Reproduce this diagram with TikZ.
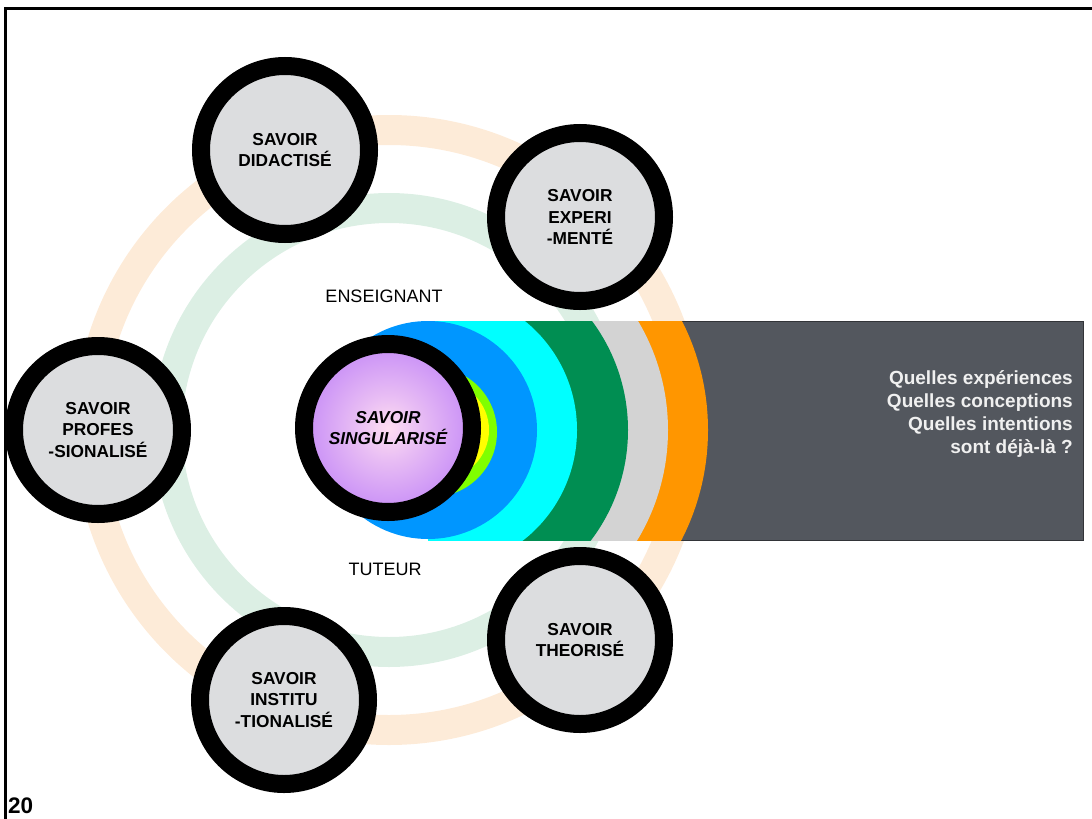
\documentclass[tikz,border=0pt]{standalone}
\usepackage{fontspec}
\setmainfont{Liberation Sans}
\usepackage{tikz}

\definecolor{ringpeach}{RGB}{253,235,216}
\definecolor{ringmint}{RGB}{220,239,228}
\definecolor{satgray}{RGB}{220,221,223}
\definecolor{stripblue}{RGB}{0,150,255}
\definecolor{stripcyan}{RGB}{0,255,255}
\definecolor{stripgreen}{RGB}{0,142,82}
\definecolor{stripgray}{RGB}{211,211,211}
\definecolor{striporange}{RGB}{255,150,0}
\definecolor{stripdark}{RGB}{83,87,94}
\definecolor{striplime}{RGB}{128,255,0}
\definecolor{stripyellow}{RGB}{255,255,0}
\definecolor{glowpink}{RGB}{255,222,242}
\definecolor{glowpurple}{RGB}{160,85,250}

\pgfdeclareradialshading{singularglow}{\pgfpoint{0bp}{0bp}}{%
  color(0bp)=(glowpink); color(10bp)=(glowpink!75!glowpurple);
  color(44bp)=(glowpurple); color(100bp)=(glowpurple)}

\tikzset{
  savoir/.style={circle, draw=black, line width=18pt, fill=satgray,
    minimum size=168pt, inner sep=0pt, align=center,
    font=\fontsize{17.3}{21.5}\selectfont\bfseries},
  role/.style={font=\fontsize{18}{20}\selectfont},
  ring/.style={line width=30pt}
}

\begin{document}
\begin{tikzpicture}[x=1pt,y=-1pt]
    \useasboundingbox (0,0) rectangle (1092,819);
    % Frame
    \draw [line width=2.5pt] (1092,8.5) -- (5.5,8.5) -- (5.5,819);

    % Pale rings
    \draw [ring, ringpeach] (389,430) circle (300);
    \draw [ring, ringmint]  (389,430) circle (222);

    % Strip
    \fill [stripdark, draw=stripdark!60!black, line width=1pt]
        (680,321) rectangle (1083,540);
    \begin{scope}
        \clip (428,321) rectangle (1083,540);
        \foreach \cx/\r/\col in {467/241/striporange, 455/213/stripgray,
                                 445/183/stripgreen, 437/140/stripcyan}
            \fill [\col] (\cx,430) circle (\r);
    \end{scope}
    \fill [stripblue]   (428,430) circle (109);
    \fill [striplime]   (432,432) circle (65);
    \fill [stripyellow] (440,430) circle (49);

    % Savoirs
    \node [savoir] (didact) at (285,150) {SAVOIR\\DIDACTIS\'E};
    \node [savoir] (experi) at (580,217) {SAVOIR\\EXPERI\\-MENT\'E};
    \node [savoir] (profes) at (98,430)  {SAVOIR\\PROFES\\-SIONALIS\'E};
    \node [savoir] (instit) at (284,700) {SAVOIR\\INSTITU\\-TIONALIS\'E};
    \node [savoir] (theor)  at (580,640) {SAVOIR\\THEORIS\'E};
    \node [savoir, shade, shading=singularglow,
           font=\fontsize{17.3}{21.5}\selectfont\bfseries\itshape]
        (singul) at (388,428) {SAVOIR\\SINGULARIS\'E};

    % Roles
    \node [role] (enseign) at (384,296) {ENSEIGNANT};
    \node [role] (tuteur)  at (385,569) {TUTEUR};

    % Questions
    \node [anchor=east, align=right, inner sep=0pt, text=white!94!black,
           font=\fontsize{19}{23}\selectfont\bfseries]
        (quest) at (1073,414) {Quelles exp\'eriences\\Quelles conceptions\\
        Quelles intentions\\sont d\'ej\`a-l\`a ?};

    % Page number
    \node [anchor=south west, inner sep=0pt,
           font=\fontsize{22.5}{24}\selectfont\bfseries]
        (page) at (8,814) {20};
\end{tikzpicture}
\end{document}
